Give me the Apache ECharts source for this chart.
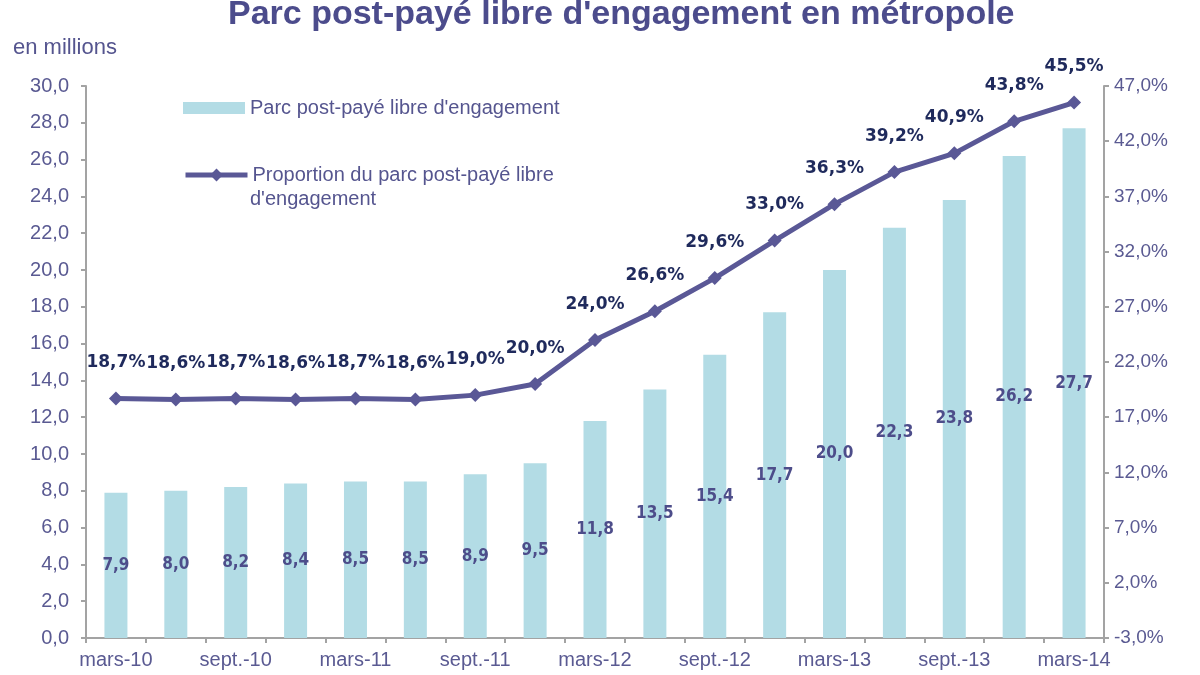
<!DOCTYPE html>
<html>
<head>
<meta charset="utf-8">
<script src="https://cdn.jsdelivr.net/npm/echarts@6/dist/echarts.min.js"></script>
<style>
html,body{margin:0;padding:0;background:#fff;}
#chart{width:1200px;height:675px;}
</style>
</head>
<body>
<div id="chart"></div>
<script>
var categories = ['mars-10','juin-10','sept.-10','déc.-10','mars-11','juin-11','sept.-11','déc.-11','mars-12','juin-12','sept.-12','déc.-12','mars-13','juin-13','sept.-13','déc.-13','mars-14'];
var parcValues = [7.9, 8.0, 8.2, 8.4, 8.5, 8.5, 8.9, 9.5, 11.8, 13.5, 15.4, 17.7, 20.0, 22.3, 23.8, 26.2, 27.7];
var proportionValues = [18.7, 18.6, 18.7, 18.6, 18.7, 18.6, 19.0, 20.0, 24.0, 26.6, 29.6, 33.0, 36.3, 39.2, 40.9, 43.8, 45.5];
var seriesNames = ['Parc post-payé libre d\'engagement', 'Proportion du parc post-payé libre\nd\'engagement'];
var titleText = 'Parc post-payé libre d\'engagement en métropole';
var unitText = 'en millions';

function fr(v){ return v.toFixed(1).replace('.', ','); }

var chart = echarts.init(document.getElementById('chart'));
var axisColor = '#a3a3a3';
var labelColor = '#5a5a92';
var legendText = {fontFamily: 'Liberation Sans, Arial', fontSize: 20, fontWeight: 'normal', color: '#55558f'};
chart.setOption({
  animation: false,
  backgroundColor: '#ffffff',
  title: [{
    text: titleText,
    left: 228, top: -2,
    padding: 0,
    textStyle: {fontFamily: 'Liberation Sans, Arial', fontWeight: 'bold', fontSize: 34, color: '#4c4c8c'}
  }, {
    text: unitText,
    left: 13, top: 37,
    padding: 0,
    textStyle: {fontFamily: 'Liberation Sans, Arial', fontWeight: 'normal', fontSize: 22, color: '#55558f'}
  }, {
    text: seriesNames[1].split('\n')[1],
    left: 250, top: 189,
    padding: 0,
    textStyle: legendText
  }],
  legend: [{
    data: [seriesNames[0]],
    left: 183, top: 98,
    padding: 0,
    icon: 'rect',
    itemWidth: 62, itemHeight: 12,
    itemGap: 5,
    textStyle: legendText,
    selectedMode: false
  }, {
    data: [seriesNames[1]],
    formatter: function(name){ return name.split('\n')[0]; },
    left: 183, top: 165,
    padding: 0,
    itemWidth: 62, itemHeight: 16,
    lineStyle: {width: 5},
    textStyle: legendText,
    selectedMode: false
  }],
  grid: {left: 86, right: 96, top: 86, bottom: 37, containLabel: false},
  xAxis: {
    type: 'category',
    data: categories,
    boundaryGap: true,
    axisLine: {lineStyle: {color: axisColor, width: 2}},
    axisTick: {show: true, interval: 0, length: 5, lineStyle: {color: axisColor, width: 2}},
    axisLabel: {interval: 1, color: labelColor, fontFamily: 'Liberation Sans, Arial', fontSize: 20, margin: 12}
  },
  yAxis: [{
    type: 'value', min: 0, max: 30, interval: 2,
    axisLine: {show: true, lineStyle: {color: axisColor, width: 2}},
    axisTick: {show: true, length: 5, lineStyle: {color: axisColor, width: 2}},
    splitLine: {show: false},
    axisLabel: {formatter: function(v){return fr(v);}, color: labelColor, fontFamily: 'Liberation Sans, Arial', fontSize: 20, margin: 17}
  }, {
    type: 'value', min: -3, max: 47, interval: 5,
    position: 'right',
    axisLine: {show: true, lineStyle: {color: axisColor, width: 2}},
    axisTick: {show: true, length: 5, lineStyle: {color: axisColor, width: 2}},
    splitLine: {show: false},
    axisLabel: {formatter: function(v){return fr(v) + '%';}, color: labelColor, fontFamily: 'Liberation Sans, Arial', fontSize: 19, margin: 10}
  }],
  series: [{
    name: seriesNames[0],
    type: 'bar',
    data: parcValues,
    barWidth: 23,
    itemStyle: {color: '#b3dce5'},
    label: {
      show: true, position: 'inside',
      formatter: function(p){return fr(p.value);},
      color: '#4d4d8a', fontWeight: 'bold', fontSize: 17,
      fontFamily: 'DejaVu Sans Condensed, DejaVu Sans'
    }
  }, {
    name: seriesNames[1],
    type: 'line',
    yAxisIndex: 1,
    data: proportionValues,
    symbol: 'diamond',
    symbolSize: 14,
    lineStyle: {color: '#5a5896', width: 5},
    itemStyle: {color: '#5a5896'},
    label: {
      show: true, position: 'top', distance: 20,
      formatter: function(p){return fr(p.value) + '%';},
      color: '#1f2a5c', fontWeight: 'bold', fontSize: 17,
      fontFamily: 'DejaVu Sans'
    },
    z: 5
  }]
});
</script>
</body>
</html>
